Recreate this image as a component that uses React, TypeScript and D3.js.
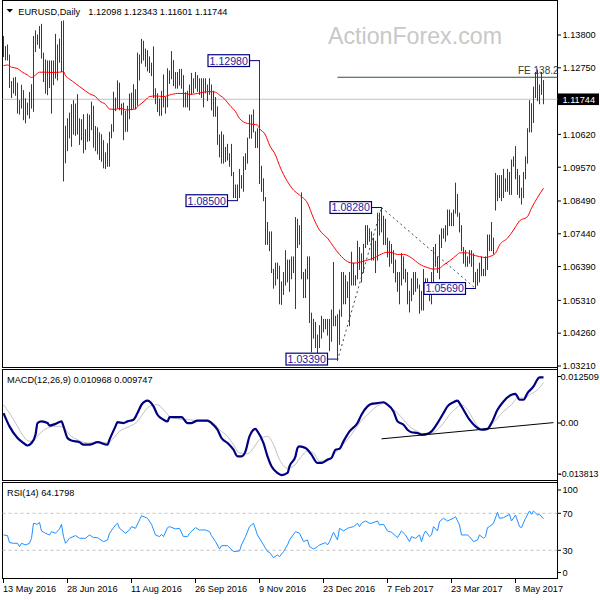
import React from "react";
import * as d3 from "d3";

// ---------- DATA ----------
const highs = [
  1.1375, 1.1343, 1.1348, 1.1316, 1.1231, 1.1242, 1.1244, 1.1226, 1.117, 1.1219,
  1.1202, 1.1176, 1.1162, 1.1196, 1.1221, 1.1375, 1.1393, 1.138, 1.1407, 1.1414,
  1.1322, 1.13, 1.1297, 1.1297, 1.1297, 1.1297, 1.1382, 1.1348, 1.1367, 1.1423,
  1.1425, 1.1088, 1.1112, 1.113, 1.1157, 1.117, 1.1159, 1.1189, 1.1112, 1.1109,
  1.1125, 1.1077, 1.1127, 1.1123, 1.1165, 1.1152, 1.1087, 1.1083, 1.1067, 1.1061,
  1.1042, 1.1003, 1.1032, 1.1069, 1.1093, 1.1197, 1.1178, 1.1233, 1.1226, 1.1159,
  1.1162, 1.1136, 1.1152, 1.1191, 1.1194, 1.1221, 1.1205, 1.1322, 1.1316, 1.1366,
  1.136, 1.1335, 1.133, 1.131, 1.129, 1.1342, 1.1208, 1.1192, 1.1175, 1.12,
  1.1252, 1.118, 1.1272, 1.1265, 1.1327, 1.1298, 1.126, 1.126, 1.127, 1.127,
  1.125, 1.1195, 1.12, 1.122, 1.1257, 1.124, 1.126, 1.125, 1.124, 1.124,
  1.124, 1.124, 1.122, 1.124, 1.122, 1.12, 1.118, 1.115, 1.106, 1.107,
  1.106, 1.102, 1.103, 1.1, 1.103, 1.094, 1.09, 1.09, 1.095, 1.093,
  1.099, 1.1, 1.105, 1.1124, 1.1124, 1.114, 1.107, 1.108, 1.1298, 1.096,
  1.092, 1.086, 1.078, 1.075, 1.075, 1.063, 1.065, 1.065, 1.064, 1.059,
  1.062, 1.069, 1.066, 1.066, 1.067, 1.067, 1.0796, 1.079, 1.077, 1.0875,
  1.062, 1.063, 1.067, 1.067, 1.049, 1.047, 1.046, 1.042, 1.045, 1.048,
  1.047, 1.047, 1.047, 1.047, 1.05, 1.0652, 1.048, 1.0485, 1.05, 1.062,
  1.062, 1.061, 1.059, 1.062, 1.0685, 1.065, 1.061, 1.072, 1.07, 1.068,
  1.071, 1.077, 1.077, 1.076, 1.075, 1.073, 1.072, 1.081, 1.081, 1.0828,
  1.08, 1.079, 1.073, 1.072, 1.071, 1.069, 1.066, 1.062, 1.062, 1.068,
  1.067, 1.063, 1.062, 1.056, 1.06, 1.062, 1.062, 1.06, 1.058, 1.056,
  1.063, 1.06, 1.06, 1.058, 1.062, 1.07, 1.071, 1.067, 1.074, 1.076,
  1.076, 1.077, 1.082, 1.082, 1.081, 1.082, 1.0906, 1.087, 1.081, 1.077,
  1.07, 1.069, 1.067, 1.069, 1.069, 1.068, 1.062, 1.063, 1.065, 1.067,
  1.063, 1.067, 1.074, 1.074, 1.078, 1.073, 1.0937, 1.093, 1.093, 1.093,
  1.095, 1.092, 1.095, 1.094, 1.098, 1.099, 1.1023, 1.095, 1.093, 1.089,
  1.094, 1.099, 1.108, 1.117, 1.116, 1.1213, 1.126, 1.1268, 1.122, 1.126,
  1.12343,
];
const lows = [
  1.1311, 1.13, 1.13, 1.1212, 1.118, 1.1194, 1.1187, 1.113, 1.1127, 1.1146,
  1.1109, 1.1099, 1.1125, 1.1114, 1.1146, 1.1136, 1.1327, 1.135, 1.1338, 1.1306,
  1.1231, 1.1194, 1.1189, 1.1212, 1.113, 1.1221, 1.1242, 1.1236, 1.1293, 1.1263,
  1.0913, 1.0971, 1.101, 1.1051, 1.1024, 1.1063, 1.1059, 1.1063, 1.103, 1.1045,
  1.1003, 1.1014, 1.104, 1.1042, 1.1077, 1.1021, 1.101, 1.1, 1.0982, 1.0976,
  1.0955, 1.0953, 1.096, 1.096, 1.1051, 1.1072, 1.1138, 1.1146, 1.1141, 1.1125,
  1.1045, 1.1072, 1.1072, 1.1112, 1.1141, 1.1146, 1.1144, 1.1155, 1.1236, 1.129,
  1.13, 1.128, 1.1265, 1.126, 1.125, 1.118, 1.116, 1.1135, 1.1123, 1.1123,
  1.115, 1.113, 1.115, 1.1225, 1.124, 1.1218, 1.121, 1.121, 1.122, 1.121,
  1.115, 1.115, 1.115, 1.114, 1.119, 1.1196, 1.121, 1.12, 1.119, 1.118,
  1.115, 1.1195, 1.117, 1.119, 1.114, 1.112, 1.112, 1.103, 1.099, 1.097,
  1.097, 1.0975, 1.098, 1.096, 1.093, 1.086, 1.086, 1.085, 1.086, 1.089,
  1.088, 1.095, 1.097, 1.105, 1.105, 1.107, 1.102, 1.102, 1.0905, 1.088,
  1.085, 1.071, 1.071, 1.069, 1.062, 1.057, 1.058, 1.06, 1.052, 1.0518,
  1.055, 1.058, 1.059, 1.056, 1.06, 1.062, 1.0505, 1.07, 1.071, 1.06,
  1.054, 1.054, 1.06, 1.046, 1.0366, 1.041, 1.038, 1.0352, 1.038, 1.041,
  1.043, 1.044, 1.042, 1.037, 1.04, 1.045, 1.045, 1.0339, 1.039, 1.048,
  1.052, 1.052, 1.054, 1.045, 1.058, 1.058, 1.058, 1.06, 1.063, 1.059,
  1.062, 1.07, 1.071, 1.072, 1.066, 1.066, 1.062, 1.066, 1.074, 1.075,
  1.071, 1.071, 1.067, 1.064, 1.065, 1.062, 1.059, 1.056, 1.052, 1.058,
  1.06, 1.059, 1.052, 1.0494, 1.053, 1.055, 1.056, 1.057, 1.049, 1.05,
  1.05, 1.056, 1.056, 1.053, 1.052, 1.058, 1.064, 1.062, 1.06, 1.07,
  1.073, 1.072, 1.074, 1.077, 1.077, 1.077, 1.081, 1.08, 1.075, 1.069,
  1.065, 1.064, 1.064, 1.065, 1.064, 1.059, 1.0569, 1.058, 1.059, 1.061,
  1.061, 1.061, 1.063, 1.069, 1.069, 1.068, 1.082, 1.085, 1.086, 1.085,
  1.086, 1.088, 1.088, 1.087, 1.087, 1.096, 1.092, 1.087, 1.086, 1.0839,
  1.086, 1.092, 1.097, 1.107, 1.107, 1.11, 1.118, 1.117, 1.116, 1.119,
  1.11601,
];

const symbolTitle = "EURUSD,Daily";
const lastOHLC = ["1.12098", "1.12343", "1.11601", "1.11744"];
const lastClose = 1.11744;

const dateLabels = [
  "13 May 2016", "28 Jun 2016", "11 Aug 2016", "26 Sep 2016", "9 Nov 2016",
  "23 Dec 2016", "7 Feb 2017", "23 Mar 2017", "8 May 2017",
];
const barsPerDateLabel = 32;

const priceTicks = [1.138, 1.1275, 1.1062, 1.0957, 1.0849, 1.0744, 1.0639, 1.0531, 1.0426, 1.0321];

// moving average (red), [bar index, price]
const maPoints: [number, number][] = [
  [0, 1.1282], [2, 1.1284], [4, 1.1277], [7, 1.1273], [9, 1.1263], [12, 1.1252], [14, 1.1244],
  [16, 1.1252], [18, 1.1261], [22, 1.1261], [24, 1.126], [28, 1.1261], [30, 1.1263], [31, 1.125],
  [33, 1.1239], [36, 1.1225], [38, 1.1215], [41, 1.1201], [43, 1.1192], [46, 1.1183], [48, 1.1169],
  [51, 1.1158], [53, 1.1143], [56, 1.1142], [58, 1.1145], [60, 1.1143], [62, 1.114], [64, 1.1142],
  [66, 1.1143], [67, 1.1151], [68, 1.1156], [71, 1.1172], [73, 1.1183], [76, 1.1185], [80, 1.1183],
  [83, 1.1188], [87, 1.1193], [91, 1.1193], [93, 1.119], [97, 1.1193], [100, 1.1197], [103, 1.1199],
  [106, 1.1197], [108, 1.1188], [111, 1.1172], [113, 1.1156], [116, 1.1135], [118, 1.1113],
  [122, 1.1097], [125, 1.1094], [127, 1.1092], [128, 1.1081], [131, 1.106], [133, 1.1028],
  [136, 1.0996], [138, 1.0962], [142, 1.0911], [145, 1.0884], [148, 1.0868], [152, 1.0842],
  [155, 1.0794], [158, 1.0756], [162, 1.073], [165, 1.0703], [168, 1.0678], [172, 1.0655],
  [175, 1.065], [178, 1.0653], [182, 1.066], [185, 1.0666], [188, 1.0676], [192, 1.0685],
  [194, 1.0684], [197, 1.0678], [200, 1.0678], [203, 1.0671], [206, 1.0657], [208, 1.0647],
  [212, 1.0636], [215, 1.0631], [218, 1.0634], [220, 1.0644], [223, 1.0657], [227, 1.0678],
  [228, 1.0683], [232, 1.0683], [233, 1.068], [236, 1.0674], [238, 1.0671], [241, 1.0668],
  [243, 1.0671], [246, 1.0682], [248, 1.0708], [252, 1.073], [255, 1.0756], [258, 1.0785],
  [262, 1.0799], [264, 1.0826], [267, 1.086], [270, 1.089],
];

// MACD(12,26,9) main line, [bar index, value]
const macdMain: [number, number][] = [
  [0, 0.0024], [3, -0.0008], [7, -0.0036], [10, -0.0048], [12, -0.0054], [14, -0.0048], [16, -0.0028],
  [17, 0], [19, 0.0004], [22, 0], [23, -0.0006], [26, -0.0002], [29, 0.0004], [30, -0.0008],
  [32, -0.0036], [34, -0.0042], [38, -0.0046], [40, -0.0052], [43, -0.0052], [47, -0.0046],
  [52, -0.0052], [53, -0.004], [56, -0.0008], [57, 0.0002], [60, 0], [62, 0.0004], [65, 0.0008],
  [67, 0.0024], [69, 0.0044], [72, 0.0054], [73, 0.0052], [75, 0.004], [77, 0.002], [80, 0.0008],
  [82, 0.0004], [83, 0.0014], [87, 0.0014], [89, 0.0014], [92, 0], [94, 0], [97, 0.0006],
  [102, 0.0006], [104, 0], [107, -0.0016], [109, -0.0036], [112, -0.0048], [115, -0.0064],
  [117, -0.008], [119, -0.008], [121, -0.0068], [123, -0.0032], [126, -0.0014], [127, -0.002],
  [130, -0.0048], [132, -0.008], [134, -0.0104], [137, -0.012], [139, -0.0125], [142, -0.012],
  [143, -0.0104], [146, -0.008], [147, -0.006], [148, -0.0056], [151, -0.006], [152, -0.0064],
  [154, -0.0076], [157, -0.0096], [159, -0.0096], [162, -0.0088], [164, -0.0084], [166, -0.0064],
  [168, -0.0062], [170, -0.0044], [173, -0.002], [177, 0], [179, 0.002], [182, 0.004],
  [184, 0.0046], [187, 0.0048], [190, 0.005], [192, 0.0044], [195, 0.0028], [197, 0.0004],
  [200, -0.0004], [202, -0.0016], [204, -0.0022], [207, -0.0024], [209, -0.0028], [212, -0.0026],
  [214, -0.002], [217, 0], [220, 0.0024], [222, 0.004], [225, 0.005], [227, 0.0054], [228, 0.0048],
  [230, 0.0032], [233, 0.0008], [236, -0.0008], [239, -0.0016], [242, -0.0014], [244, 0],
  [247, 0.0032], [250, 0.0052], [254, 0.0068], [256, 0.007], [258, 0.0056], [260, 0.0056],
  [262, 0.0072], [265, 0.0088], [267, 0.0105], [268, 0.011], [270, 0.010968],
];
const macdSignal: [number, number][] = [
  [0, 0.0044], [3, 0.0024], [7, -0.0008], [10, -0.0032], [13, -0.0044], [15, -0.0042], [18, -0.0026],
  [22, -0.0012], [25, -0.0008], [28, -0.0008], [31, -0.0016], [33, -0.0028], [37, -0.004],
  [42, -0.0048], [45, -0.0048], [48, -0.0046], [52, -0.0048], [55, -0.0036], [58, -0.002],
  [63, -0.0008], [67, 0.0004], [70, 0.0024], [73, 0.004], [77, 0.0044], [80, 0.0032], [83, 0.0016],
  [87, 0.001], [92, 0.0008], [97, 0.0006], [102, 0.0004], [105, 0], [108, -0.0016], [112, -0.0032],
  [115, -0.0052], [118, -0.0072], [122, -0.0074], [125, -0.006], [128, -0.004], [132, -0.0032],
  [135, -0.0052], [138, -0.0088], [142, -0.0108], [145, -0.0104], [148, -0.0086], [152, -0.0068],
  [155, -0.0072], [158, -0.0092], [162, -0.0088], [165, -0.0076], [168, -0.006], [172, -0.004],
  [175, -0.002], [178, 0], [182, 0.002], [185, 0.0034], [188, 0.0044], [191, 0.0048], [193, 0.004],
  [197, 0.0024], [200, 0.0008], [203, -0.0008], [207, -0.002], [210, -0.0026], [213, -0.0026],
  [217, -0.0016], [220, 0], [223, 0.002], [227, 0.0038], [229, 0.0044], [232, 0.0032], [235, 0.0008],
  [238, -0.0012], [241, -0.0016], [244, -0.0004], [247, 0.0012], [250, 0.0028], [254, 0.0044],
  [257, 0.006], [260, 0.006], [263, 0.0068], [267, 0.008], [270, 0.009747],
];
const macdTicks = [0.012509, 0, -0.013813];
const macdTicksText = ["0.012509", "0.00", "-0.013813"];
const macdTrend: [number, number][] = [[189, -0.0038], [275, 0.0001]];

// RSI(14), [bar index, value]
const rsiPoints: [number, number][] = [
  [0, 46.6], [2, 45.9], [3, 38.3], [5, 37.6], [7, 37.6], [8, 34.0], [9, 37.6], [11, 35.8], [13, 37.6],
  [14, 43.0], [15, 59.2], [17, 58.1], [18, 60.3], [19, 50.9], [21, 48.4], [23, 46.6], [24, 50.2],
  [26, 48.4], [28, 53.1], [29, 58.1], [30, 44.8], [31, 37.6], [33, 43.0], [36, 45.9], [38, 43.0],
  [41, 43.0], [43, 46.6], [45, 43.7], [47, 43.7], [48, 42.2], [50, 39.4], [52, 41.2], [53, 48.4],
  [56, 57.4], [57, 59.2], [58, 53.8], [61, 48.4], [63, 52.0], [64, 55.6], [66, 53.8], [68, 62.8],
  [69, 67.5], [72, 64.6], [74, 58.1], [76, 46.6], [78, 44.8], [79, 47.3], [80, 44.8], [82, 54.5],
  [83, 55.6], [86, 53.1], [88, 53.8], [90, 44.8], [92, 44.8], [93, 48.4], [96, 54.5], [98, 52.0],
  [101, 52.0], [103, 50.2], [104, 45.9], [106, 39.4], [108, 31.4], [109, 35.0], [112, 35.0],
  [115, 28.6], [118, 29.3], [119, 35.8], [121, 44.8], [123, 55.6], [125, 59.2], [127, 46.6],
  [130, 35.8], [132, 28.6], [133, 27.8], [135, 22.1], [137, 25.0], [138, 23.1], [140, 28.6],
  [142, 35.8], [143, 41.2], [146, 50.2], [148, 48.4], [150, 39.4], [152, 41.2], [153, 34.0],
  [155, 31.4], [157, 34.0], [158, 35.8], [161, 38.3], [162, 35.8], [163, 39.4], [165, 49.5],
  [167, 41.2], [168, 53.8], [170, 50.9], [172, 53.8], [173, 54.5], [175, 55.6], [177, 59.2],
  [178, 55.6], [179, 59.2], [181, 61.7], [183, 59.2], [184, 59.2], [187, 61.7], [188, 57.4],
  [190, 58.1], [192, 50.9], [194, 49.5], [197, 43.7], [199, 50.9], [201, 46.6], [203, 39.4],
  [204, 44.8], [206, 43.0], [208, 46.6], [209, 39.4], [210, 46.6], [211, 50.9], [213, 44.8],
  [214, 46.6], [215, 55.6], [217, 50.9], [218, 61.0], [220, 64.6], [222, 61.7], [223, 62.8],
  [225, 64.6], [226, 66.4], [228, 57.4], [229, 46.6], [232, 46.6], [233, 44.8], [235, 39.4],
  [237, 41.2], [238, 46.6], [240, 43.0], [241, 44.8], [242, 54.5], [243, 55.6], [245, 59.2],
  [247, 71.1], [248, 64.6], [250, 65.3], [253, 68.9], [254, 61.7], [256, 68.2], [258, 55.6],
  [259, 54.5], [261, 64.6], [263, 72.5], [264, 68.9], [265, 72.5], [267, 68.2], [268, 68.9],
  [270, 64.1798],
];
const rsiTicks = [100, 70, 30, 0];
const rsiLevels = [70, 30];

// swing labels: [bar index, price, text]
const swingLabels: [number, number, string][] = [
  [128, 1.1298, "1.12980"],
  [117, 1.085, "1.08500"],
  [189, 1.0828, "1.08280"],
  [167, 1.0339, "1.03390"],
  [236, 1.0569, "1.05690"],
];
// dotted swing legs: [from index, from price, to index, to price]
const swingLegs: [number, number, number, number][] = [
  [167, 1.0339, 189, 1.0828],
  [189, 1.0828, 236, 1.0569],
];
const feLevel = { start: 167, price: 1.12448, text: "FE 138.2" };

// ---------- CHART ----------
const FONT = "'Liberation Sans', Arial, Helvetica, sans-serif";
const AXIS_X = 557.5;
const LEFT = 2.5;
const MAIN = { top: 0.5, bottom: 367.5 };
const MACD = { top: 369.5, bottom: 480.5 };
const RSI = { top: 482.5, bottom: 578.5 };
const BAR_COLOR = "#15465e";

export default function App() {
  const n = highs.length;
  const x = d3.scaleLinear().domain([0, n - 1]).range([3.5, 3.5 + 2 * (n - 1)]);
  const y = d3.scaleLinear().domain([1.0321, 1.138]).range([366, 35]);
  const yM = d3.scaleLinear().domain([-0.013813, 0.012509]).range([MACD.bottom, MACD.top + 1.5]);
  const yR = d3.scaleLinear().domain([30, 70]).range([550.3, 513.3]);

  const maLine = d3.line<[number, number]>().x((d) => x(d[0])).y((d) => y(d[1])).curve(d3.curveMonotoneX);
  const macdLine = d3.line<[number, number]>().x((d) => x(d[0])).y((d) => yM(d[1])).curve(d3.curveMonotoneX);
  const rsiLine = d3.line<[number, number]>().x((d) => x(d[0])).y((d) => yR(d[1]));

  const clamp = (v: number, lo: number, hi: number) => Math.max(lo, Math.min(hi, v));
  const fs = 9.2;

  return (
    <svg
      width={600}
      height={600}
      viewBox="0 0 600 600"
      style={{ position: "fixed", left: 0, top: 0, background: "#fff" }}
      fontFamily={FONT}
    >
      <rect x={0} y={0} width={600} height={600} fill="#fff" />

      {/* watermark */}
      <text x={328} y={44} fontSize={23.2} fill="#c8c8c8">ActionForex.com</text>

      {/* panel frames */}
      {[MAIN, MACD, RSI].map((p, k) => (
        <rect key={k} x={LEFT} y={p.top} width={AXIS_X - LEFT} height={p.bottom - p.top} fill="none" stroke="#000" strokeWidth={1} />
      ))}
      <line x1={AXIS_X} x2={AXIS_X} y1={0} y2={RSI.bottom} stroke="#000" />

      {/* close price line */}
      <line x1={LEFT} x2={AXIS_X} y1={y(lastClose)} y2={y(lastClose)} stroke="#c0c0c0" strokeWidth={1} />

      {/* FE level */}
      <line x1={x(feLevel.start)} x2={AXIS_X} y1={y(feLevel.price)} y2={y(feLevel.price)} stroke="#2f4f4f" strokeWidth={1} />
      <text x={518} y={y(feLevel.price) - 3.3} fontSize={fs + 0.8} fill="#3a3a3a">{feLevel.text}</text>

      {/* bars */}
      <g stroke={BAR_COLOR} strokeWidth={1}>
        {highs.map((h, i) => (
          <line key={i} x1={x(i)} x2={x(i)} y1={y(h) - 0.5} y2={y(lows[i]) + 0.5} />
        ))}
      </g>

      {/* moving average */}
      <path d={maLine(maPoints) || ""} fill="none" stroke="#ff0000" strokeWidth={1} />

      {/* dotted swing legs */}
      {swingLegs.map((s, k) => (
        <line key={k} x1={x(s[0])} y1={y(s[1])} x2={x(s[2])} y2={y(s[3])} stroke="#2f4f4f" strokeWidth={1} strokeDasharray="2,3" />
      ))}

      {/* swing labels */}
      {swingLabels.map(([i, p, t], k) => {
        const bx = x(i);
        const boxW = 41.5;
        const boxH = 11.8;
        const cy = clamp(y(p), MAIN.top + boxH / 2 + 2, MAIN.bottom - boxH / 2 - 2.5);
        const right = bx - 10;
        return (
          <g key={k}>
            <line x1={right} x2={bx} y1={cy} y2={cy} stroke="#000080" strokeWidth={1} />
            <rect x={right - boxW} y={cy - boxH / 2} width={boxW} height={boxH} fill="#fff" stroke="#000080" strokeWidth={1.2} />
            <text x={right - boxW / 2} y={cy + 3.9} fontSize={10.6} fill="#1c1ca0" textAnchor="middle">{t}</text>
          </g>
        );
      })}

      {/* title */}
      <path d="M6.5,9 L13,9 L9.75,12.5 Z" fill="#000" />
      <text x={18.3} y={14.5} fontSize={fs} fill="#000">{symbolTitle}</text>
      <text x={88.3} y={14.5} fontSize={fs} fill="#000">{lastOHLC.join(" ")}</text>

      {/* price axis */}
      {priceTicks.map((v, k) => (
        <g key={k}>
          <line x1={AXIS_X} x2={AXIS_X + 3.5} y1={y(v)} y2={y(v)} stroke="#000" />
          <text x={562.5} y={y(v) + 3.3} fontSize={fs} fill="#000">{v.toFixed(5)}</text>
        </g>
      ))}
      <rect x={558} y={y(lastClose) - 5.8} width={41} height={11.6} fill="#000" />
      <text x={562.5} y={y(lastClose) + 3.3} fontSize={fs} fill="#fff">{lastClose.toFixed(5)}</text>

      {/* MACD */}
      <text x={7} y={383} fontSize={fs} fill="#000">
        {"MACD(12,26,9) " + macdMain[macdMain.length - 1][1].toFixed(6) + " " + macdSignal[macdSignal.length - 1][1].toFixed(6)}
      </text>
      <path d={macdLine(macdSignal) || ""} fill="none" stroke="#c0c0c0" strokeWidth={1} />
      <path d={macdLine(macdMain) || ""} fill="none" stroke="#000080" strokeWidth={2.2} strokeLinejoin="round" />
      <line x1={x(macdTrend[0][0])} y1={yM(macdTrend[0][1])} x2={x(macdTrend[1][0])} y2={yM(macdTrend[1][1])} stroke="#000" strokeWidth={1} />
      {macdTicks.map((v, k) => {
        const ty = clamp(yM(v), MACD.top + 7, MACD.bottom - 6.5);
        const neg = v < 0;
        return (
          <g key={k}>
            <line x1={AXIS_X} x2={AXIS_X + 3.5} y1={ty} y2={ty} stroke="#000" />
            <text x={neg ? 558.8 : 560.5} y={ty + 3.3} fontSize={neg ? 8.8 : fs} fill="#000">{macdTicksText[k]}</text>
          </g>
        );
      })}

      {/* RSI */}
      <text x={7} y={496} fontSize={fs} fill="#000">{"RSI(14) " + rsiPoints[rsiPoints.length - 1][1].toFixed(4)}</text>
      {rsiLevels.map((v) => (
        <line key={v} x1={LEFT} x2={AXIS_X} y1={yR(v)} y2={yR(v)} stroke="#c0c0c0" strokeDasharray="3,3" />
      ))}
      <path d={rsiLine(rsiPoints) || ""} fill="none" stroke="#1e90ff" strokeWidth={1} />
      {rsiTicks.map((v, k) => {
        const ty = clamp(yR(v), RSI.top + 7.5, RSI.bottom - 6);
        return (
          <g key={k}>
            <line x1={AXIS_X} x2={AXIS_X + 3.5} y1={ty} y2={ty} stroke="#000" />
            <text x={562.5} y={ty + 3.3} fontSize={fs} fill="#000">{String(v)}</text>
          </g>
        );
      })}

      {/* date axis */}
      {dateLabels.map((t, k) => {
        const tx = x(k * barsPerDateLabel);
        return (
          <g key={k}>
            <line x1={tx} x2={tx} y1={RSI.bottom} y2={RSI.bottom + 4.5} stroke="#000" />
            <text x={tx - 0.5} y={592} fontSize={fs} fill="#000">{t}</text>
          </g>
        );
      })}
    </svg>
  );
}
